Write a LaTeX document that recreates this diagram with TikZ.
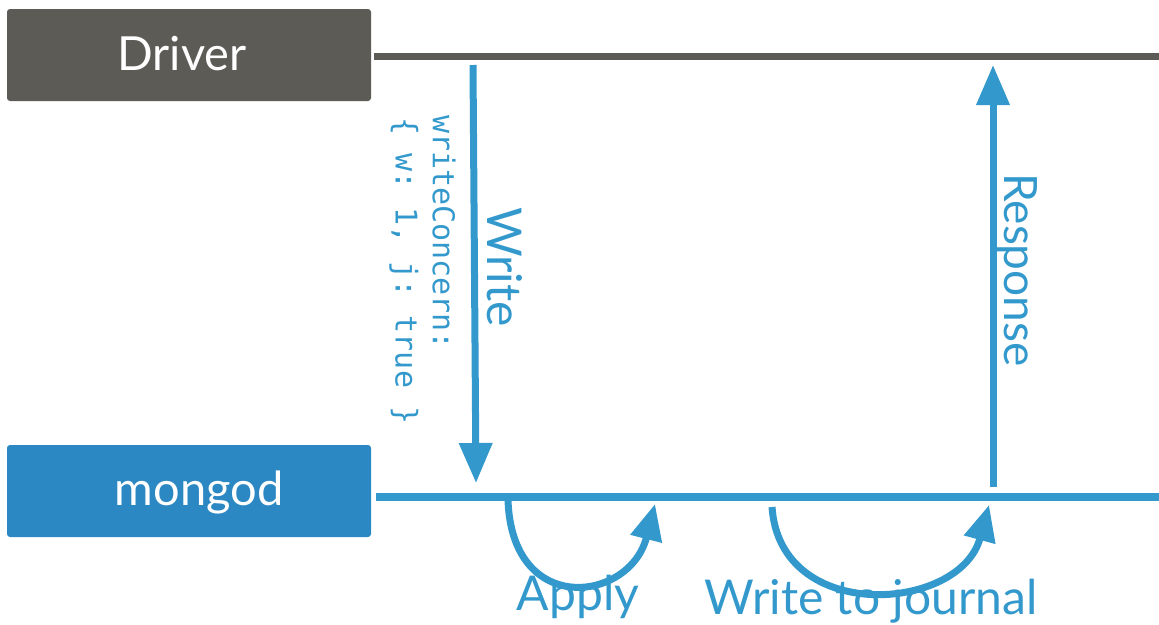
\documentclass[tikz,border=0pt]{standalone}
\usepackage{fontspec}
\setmainfont{Lato}
\setmonofont{DejaVu Sans Mono}
\usetikzlibrary{arrows.meta}
\definecolor{drivergray}{HTML}{5C5B56}
\definecolor{mongoblue}{HTML}{2B88C2}
\definecolor{flowblue}{HTML}{3399CC}
\tikzset{
  hostbox/.style={rounded corners=3pt, minimum width=364pt, minimum height=92pt, inner sep=0pt},
  hosttext/.style={text=white, inner sep=0pt, anchor=base, font=\fontsize{47}{50}\selectfont},
  flowarrow/.style={draw=flowblue, line width=7pt, -{Triangle[length=40pt,width=32pt]}},
  bentarrow/.style={draw=flowblue, line width=7pt, -{Triangle[length=36pt,width=31pt]}},
  biglabel/.style={text=flowblue, inner sep=0pt, font=\fontsize{48}{52}\selectfont},
  codelabel/.style={text=flowblue, inner sep=0pt, font=\ttfamily\fontsize{30}{32}\selectfont, rotate=-90, anchor=west},
}
\begin{document}
\begin{tikzpicture}[x=1pt,y=-1pt]
\useasboundingbox (0,0) rectangle (1159,624);
% host boxes
\node[hostbox, fill=drivergray] (driver) at (189,55) {};
\node[hosttext] (drivertxt) at (182,70) {Driver};
\node[hostbox, fill=mongoblue] (mongod) at (189,491) {};
\node[hosttext] (mongodtxt) at (199,505) {mongod};
% timelines
\coordinate (dstart) at (374,56.5);
\coordinate (dend) at (1159,56.5);
\coordinate (mstart) at (376,497);
\coordinate (mend) at (1159,497);
\draw[drivergray, line width=7pt] (dstart) -- (dend);
\draw[flowblue, line width=8pt] (mstart) -- (mend);
% write arrow
\coordinate (wtop) at (473,65);
\coordinate (wbot) at (476,483);
\draw[flowarrow] (wtop) -- (wbot);
\node[biglabel, rotate=-90, anchor=base] (writelbl) at (487,267) {Write};
\node[codelabel] (wc1) at (444,115) {writeConcern:};
\node[codelabel] (wc2) at (404,117) {\{ w: 1, j: true \}};
% response arrow
\coordinate (rbot) at (993,487);
\coordinate (rtop) at (993,65);
\draw[flowarrow] (rbot) -- (rtop);
\node[biglabel, rotate=-90, anchor=base, font=\fontsize{46}{50}\selectfont] (resplbl) at (1004,270) {Response};
% apply
\coordinate (astart) at (508,500);
\coordinate (aend) at (655,504);
\draw[bentarrow] (astart) .. controls (512,618) and (630,602) .. (aend);
\node[biglabel, anchor=base] (applylbl) at (578,610) {Apply};
% journal
\coordinate (jstart) at (772,507);
\coordinate (jend) at (989,505);
\draw[bentarrow] (jstart) .. controls (780,625) and (960,612) .. (jend);
\node[biglabel, anchor=base] (journallbl) at (871,614) {Write to journal};
\end{tikzpicture}
\end{document}
